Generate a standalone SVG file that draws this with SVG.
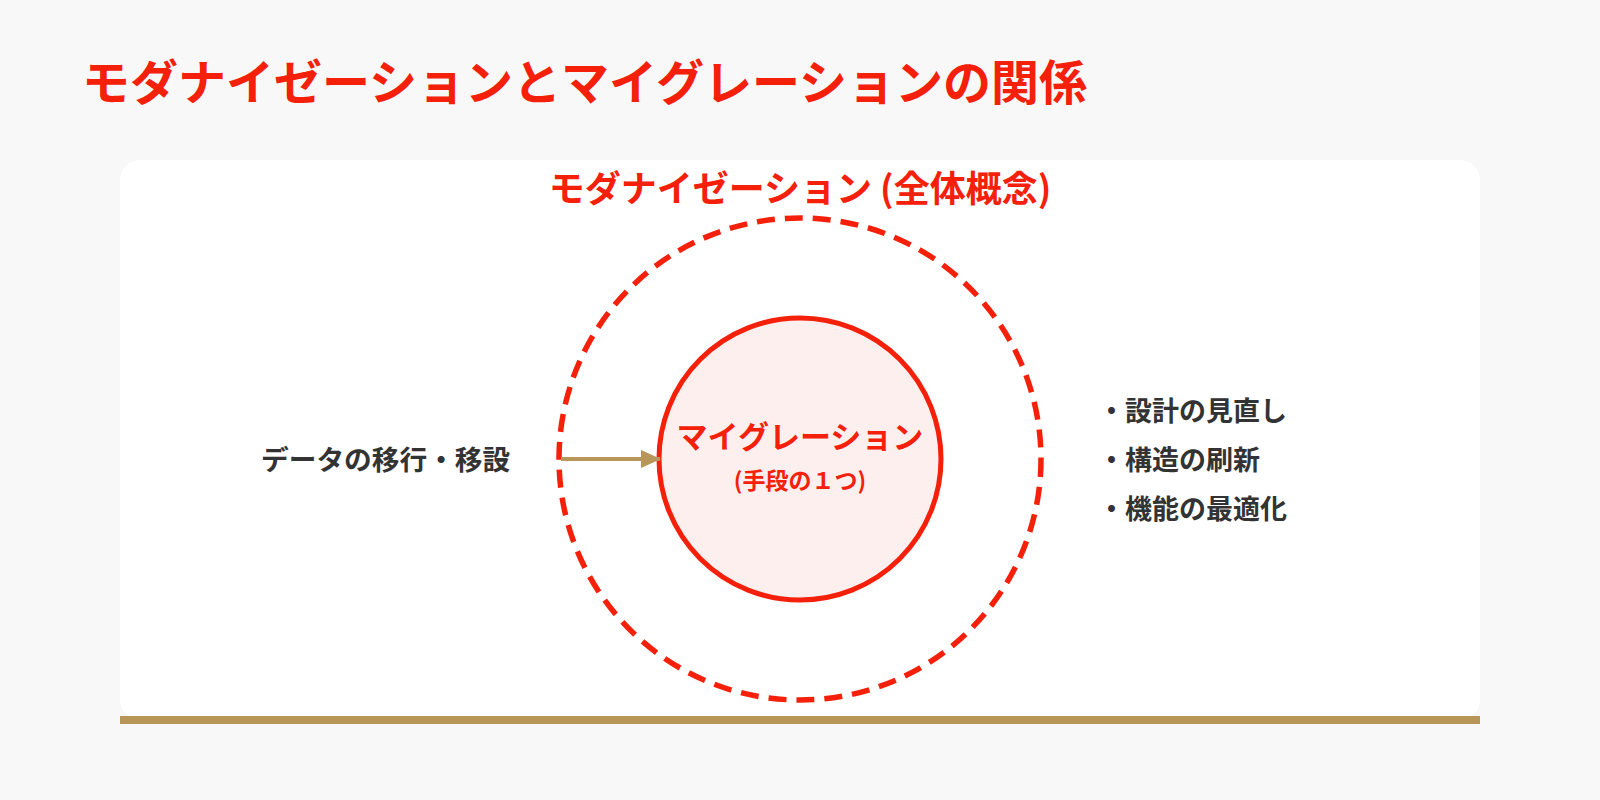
<svg xmlns="http://www.w3.org/2000/svg" width="1600" height="800" viewBox="0 0 1600 800">
<defs>
<style>
text{font-family:"Noto Sans CJK JP","Noto Sans",sans-serif;font-weight:700}
.red{fill:#F5200A}
.dark{fill:#333333}
</style>
<marker id="ah" markerWidth="20" markerHeight="18" refX="19" refY="9" orient="auto" markerUnits="userSpaceOnUse" viewBox="0 0 20 18"><path d="M0,0 L20,9 L0,18 Z" fill="#B8965A"/></marker>
</defs>
<rect width="1600" height="800" fill="#F8F8F8"/>
<text class="red" x="82" y="100" font-size="48">モダナイゼーションとマイグレーションの関係</text>
<g id="card">
<rect x="120" y="160" width="1360" height="560" rx="20" fill="#FFFFFF"/>
<rect x="120" y="716" width="1360" height="8" fill="#B8965A"/>
</g>
<g id="modernization">
<circle cx="800" cy="459" r="241" fill="none" stroke="#F5200A" stroke-width="5.5" stroke-dasharray="18 10"/>
<text class="red" x="800" y="202" font-size="36" text-anchor="middle">モダナイゼーション (全体概念)</text>
</g>
<g id="migration">
<circle cx="800" cy="459" r="141" fill="#FCEFEE" stroke="#F5200A" stroke-width="5"/>
<text class="red" x="800" y="448" font-size="31" text-anchor="middle">マイグレーション</text>
<text class="red" x="800" y="489" font-size="23" text-anchor="middle">(手段の１つ)</text>
</g>
<g id="left-label"><text class="dark" x="261" y="470" font-size="27.7">データの移行・移設</text></g>
<g id="right-list">
<text class="dark" x="1098" y="421" font-size="27">・設計の見直し</text>
<text class="dark" x="1098" y="470" font-size="27">・構造の刷新</text>
<text class="dark" x="1098" y="519" font-size="27">・機能の最適化</text>
</g>
<g id="connectors">
<line x1="561" y1="459" x2="660" y2="459" stroke="#B8965A" stroke-width="4" marker-end="url(#ah)"/>
</g>
</svg>
